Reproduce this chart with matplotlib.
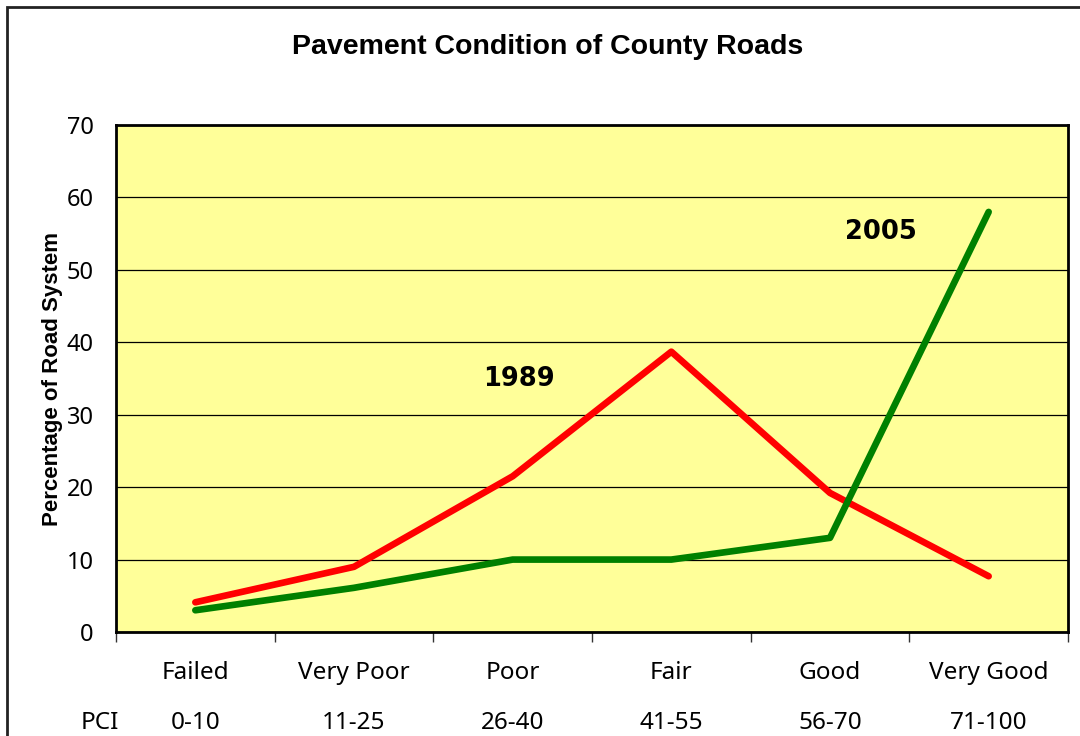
import matplotlib
matplotlib.use("Agg")
import matplotlib.pyplot as plt
from matplotlib.patches import Rectangle

# data
categories = ["Failed", "Very Poor", "Poor", "Fair", "Good", "Very Good"]
pci_ranges = ["0-10", "11-25", "26-40", "41-55", "56-70", "71-100"]
pct_1989 = [4.1, 9.0, 21.5, 38.7, 19.2, 7.7]
pct_2005 = [3.0, 6.1, 10.0, 10.0, 13.0, 58.0]

fig = plt.figure(figsize=(10.8, 7.36), dpi=100)
ax = fig.add_axes([116/1080, 1-632/736, (1068-116)/1080, (632-125)/736])

# outer chart border (runs off the right and bottom edge)
fig.patches.append(Rectangle((7/1080, -0.05), 1.2, 1-7/736+0.05, transform=fig.transFigure,
                             fill=False, ec="#222222", lw=2))

ax.set_facecolor("#FFFF99")
x = list(range(len(categories)))
ax.plot(x, pct_1989, color="#FF0000", lw=4.8, solid_capstyle="round", zorder=3)
ax.plot(x, pct_2005, color="#008000", lw=4.8, solid_capstyle="round", zorder=3)

ax.set_xlim(-0.5, len(categories) - 0.5)
ax.set_ylim(0, 70)
ax.set_yticks(range(0, 71, 10))
ax.yaxis.grid(True, color="black", lw=0.9)
ax.set_axisbelow(True)
ax.tick_params(axis="y", length=0, labelsize=17, pad=16)
for lab in ax.get_yticklabels():
    lab.set_fontfamily("Noto Sans")

# category boundary ticks below the axis
ax.set_xticks([i - 0.5 for i in range(len(categories) + 1)])
ax.set_xticklabels([])
ax.tick_params(axis="x", length=7, width=1, direction="out", color="#333333")

for i in x:
    ax.text(i, -0.058, categories[i], transform=ax.get_xaxis_transform(),
            ha="center", va="top", fontsize=17.5, family="Noto Sans")
    ax.text(i, -0.155, pci_ranges[i], transform=ax.get_xaxis_transform(),
            ha="center", va="top", fontsize=17.5, family="Noto Sans")
ax.text(-0.6, -0.155, "PCI", transform=ax.get_xaxis_transform(),
        ha="center", va="top", fontsize=17.5, family="Noto Sans")

for side in ["left", "top", "right", "bottom"]:
    ax.spines[side].set_linewidth(2)
    ax.spines[side].set_color("black")

ax.set_ylabel("Percentage of Road System", fontsize=16, fontweight="bold",
              family="Liberation Sans", labelpad=3)

ax.text(2.04, 35, "1989", fontsize=18.5, fontweight="bold", family="DejaVu Sans",
        ha="center", va="center")
ax.text(4.32, 55.2, "2005", fontsize=18.5, fontweight="bold", family="DejaVu Sans",
        ha="center", va="center")

fig.text(548/1080, 1-47/736, "Pavement Condition of County Roads", ha="center", va="center",
         fontsize=20.5, fontweight="bold", family="Liberation Sans")

fig.savefig("out.png", dpi=100)
